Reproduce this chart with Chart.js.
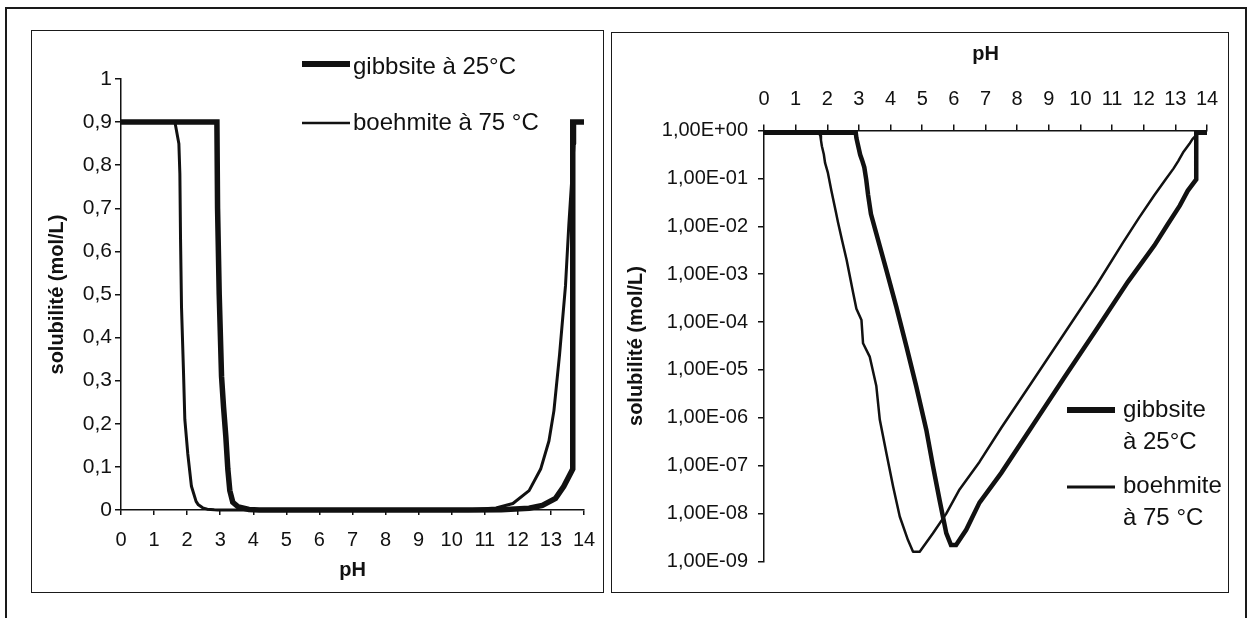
<!DOCTYPE html>
<html><head><meta charset="utf-8">
<script src="https://cdn.jsdelivr.net/npm/chart.js@4.4.1/dist/chart.umd.min.js"></script>
<style>
html,body{margin:0;padding:0;background:#fff;width:1248px;height:618px;overflow:hidden;font-family:"Liberation Sans",Arial,sans-serif;}
#outer{position:absolute;left:5px;top:7px;width:1238px;height:700px;border:2px solid #1a1a1a;border-bottom:none;}
.panel{position:absolute;border:1.5px solid #1a1a1a;box-sizing:border-box;}
canvas{position:absolute;}
</style></head><body>
<div id="outer"></div>
<div class="panel" style="left:31px;top:30px;width:573px;height:563px"></div>
<div class="panel" style="left:611px;top:32px;width:618px;height:561px"></div>
<canvas id="c1" width="572" height="562" style="left:31px;top:30px;width:572px;height:562px"></canvas>
<canvas id="c2" width="617" height="560" style="left:611px;top:32px;width:617px;height:560px"></canvas>
<script>
// ---- data ----
const seriesNames = ['gibbsite à 25°C', 'boehmite à 75 °C'];

const phGibbsite = [0, 2.90, 2.92, 2.97, 3.04, 3.10, 3.17, 3.23, 3.29, 3.38, 3.55, 3.87, 4.18, 4.50, 4.81, 5.13, 5.34, 5.55, 5.76, 5.91, 6.07, 6.39, 6.81, 7.5, 8.5, 9.5, 10.5, 11.5, 12.34, 12.74, 13.14, 13.39, 13.66, 13.66, 14];
const solGibbsite = [0.9, 0.9, 0.70, 0.50, 0.31, 0.24, 0.17, 0.095, 0.045, 0.018, 0.007, 1.2e-3, 2.1e-4, 3.1e-5, 4.6e-6, 5.6e-7, 9.8e-8, 1.9e-8, 3.9e-9, 2.2e-9, 2.2e-9, 4.6e-9, 1.7e-8, 7.1e-8, 7.1e-7, 7.1e-6, 6.9e-5, 6.9e-4, 0.004, 0.0105, 0.027, 0.055, 0.095, 0.9, 0.9];

const phBoehmite = [0, 1.63, 1.75, 1.78, 1.80, 1.83, 1.89, 1.93, 2.02, 2.13, 2.27, 2.34, 2.47, 2.61, 2.82, 2.92, 3.08, 3.13, 3.34, 3.55, 3.66, 3.87, 4.08, 4.29, 4.55, 4.71, 4.92, 5.34, 5.76, 6.18, 6.81, 7.5, 8.5, 9.5, 10.5, 11.34, 11.85, 12.34, 12.69, 12.94, 13.09, 13.26, 13.44, 13.54, 13.70, 13.72];
const solBoehmite = [0.9, 0.9, 0.85, 0.78, 0.63, 0.47, 0.32, 0.21, 0.13, 0.055, 0.02, 0.012, 0.005, 2.0e-3, 4.0e-4, 1.9e-4, 1.1e-4, 3.6e-5, 1.9e-5, 4.6e-6, 9.1e-7, 1.8e-7, 3.7e-8, 8.7e-9, 2.8e-9, 1.6e-9, 1.6e-9, 3.9e-9, 1.0e-8, 3.2e-8, 1.2e-7, 6.2e-7, 6.0e-6, 5.9e-5, 5.8e-4, 0.0045, 0.015, 0.045, 0.095, 0.16, 0.23, 0.36, 0.52, 0.66, 0.85, 0.9];

const phTicks = [0,1,2,3,4,5,6,7,8,9,10,11,12,13,14];
const linTicks = [0,0.1,0.2,0.3,0.4,0.5,0.6,0.7,0.8,0.9,1];
const linTickLabels = ['0','0,1','0,2','0,3','0,4','0,5','0,6','0,7','0,8','0,9','1'];
const logTicks = [1e-9,1e-8,1e-7,1e-6,1e-5,1e-4,1e-3,1e-2,1e-1,1];
const logTickLabels = ['1,00E-09','1,00E-08','1,00E-07','1,00E-06','1,00E-05','1,00E-04','1,00E-03','1,00E-02','1,00E-01','1,00E+00'];
const axisTitleX = 'pH';
const axisTitleY = 'solubilité (mol/L)';

// ---- helpers ----
const FONT = '"Liberation Sans", Arial, sans-serif';
const INK = '#111';
const pts = (xs, ys) => xs.map((x, i) => ({x: x, y: ys[i]}));

const legendPlugin = {
  id: 'customLegend',
  afterDraw(chart, args, opts) {
    const ctx = chart.ctx;
    ctx.save();
    ctx.font = opts.fontSize + 'px ' + FONT;
    ctx.fillStyle = INK;
    ctx.textBaseline = 'alphabetic';
    ctx.textAlign = 'left';
    opts.items.forEach((it, k) => {
      const ds = chart.data.datasets[k];
      ctx.strokeStyle = INK;
      ctx.lineWidth = it.lw;
      ctx.beginPath();
      ctx.moveTo(it.x1, it.y);
      ctx.lineTo(it.x2, it.y);
      ctx.stroke();
      const label = ds.label;
      const lines = opts.split ? [label.slice(0, label.indexOf(' ')), label.slice(label.indexOf(' ') + 1)] : [label];
      lines.forEach((ln, j) => ctx.fillText(ln, it.tx, it.base + j * opts.lineGap));
    });
    ctx.restore();
  }
};

function zeroPad(scale) {
  scale.paddingLeft = 0; scale.paddingRight = 0; scale.paddingTop = 0; scale.paddingBottom = 0;
}

function makeDatasets(gw, bw) {
  return [
    {label: seriesNames[0], data: pts(phGibbsite, solGibbsite), borderColor: INK, borderWidth: gw,
     pointRadius: 0, tension: 0, fill: false, clip: false, borderJoinStyle: 'miter', borderCapStyle: 'butt'},
    {label: seriesNames[1], data: pts(phBoehmite, solBoehmite), borderColor: INK, borderWidth: bw,
     pointRadius: 0, tension: 0, fill: false, clip: false, borderJoinStyle: 'round'}
  ];
}

const tickFont = {family: FONT, size: 20};
const yTickFontLeft = {family: FONT, size: 21};
const titleFont = {family: FONT, size: 20, weight: 'bold'};

// ---- left chart: linear ----
new Chart(document.getElementById('c1'), {
  type: 'line',
  data: {datasets: makeDatasets(5.5, 3)},
  options: {
    responsive: false, animation: false, devicePixelRatio: 1,
    layout: {padding: {left: 0, right: 19, top: 49, bottom: 0}},
    plugins: {
      legend: {display: false}, tooltip: {enabled: false},
      customLegend: {fontSize: 24, split: false, lineGap: 0, items: [
        {x1: 271, x2: 319, y: 34, lw: 6, tx: 322, base: 44},
        {x1: 271, x2: 319, y: 93, lw: 2.5, tx: 322, base: 99.5}
      ]}
    },
    scales: {
      x: {
        type: 'linear', position: 'bottom', min: 0, max: 14,
        afterBuildTicks: s => { s.ticks = phTicks.map(v => ({value: v})); },
        afterFit: s => { s.height = 82; zeroPad(s); },
        ticks: {autoSkip: false, maxRotation: 0, padding: 13, color: INK, font: tickFont,
                callback: v => String(v)},
        grid: {drawOnChartArea: false, drawTicks: true, tickLength: 5, color: INK, lineWidth: 1.5},
        border: {display: true, color: INK, width: 1.5},
        title: {display: true, text: axisTitleX, color: INK, font: titleFont, padding: {top: 0, bottom: 10}}
      },
      y: {
        type: 'linear', position: 'left', min: 0, max: 1,
        afterBuildTicks: s => { s.ticks = linTicks.map(v => ({value: v})); },
        afterFit: s => { s.width = 90; zeroPad(s); },
        ticks: {autoSkip: false, padding: 3, color: INK, font: yTickFontLeft,
                callback: (v) => linTickLabels[linTicks.findIndex(t => Math.abs(t - v) < 1e-6)]},
        grid: {drawOnChartArea: false, drawTicks: true, tickLength: 6, color: INK, lineWidth: 1.5},
        border: {display: true, color: INK, width: 1.5},
        title: {display: true, text: axisTitleY, color: INK, font: titleFont, padding: {top: 14, bottom: 0}}
      }
    }
  },
  plugins: [legendPlugin]
});

// ---- right chart: logarithmic ----
new Chart(document.getElementById('c2'), {
  type: 'line',
  data: {datasets: makeDatasets(4.5, 2.5)},
  options: {
    responsive: false, animation: false, devicePixelRatio: 1,
    layout: {padding: {left: 0, right: 21, top: 0, bottom: 30.5}},
    plugins: {
      legend: {display: false}, tooltip: {enabled: false},
      customLegend: {fontSize: 24, split: true, lineGap: 32, items: [
        {x1: 456, x2: 504, y: 378, lw: 6, tx: 512, base: 385},
        {x1: 456, x2: 504, y: 455, lw: 3, tx: 512, base: 461}
      ]}
    },
    scales: {
      x: {
        type: 'linear', position: 'top', min: 0, max: 14,
        afterBuildTicks: s => { s.ticks = phTicks.map(v => ({value: v})); },
        afterFit: s => { s.height = 98.5; zeroPad(s); },
        ticks: {autoSkip: false, maxRotation: 0, padding: 13.5, color: INK, font: tickFont,
                callback: v => String(v)},
        grid: {drawOnChartArea: false, drawTicks: true, tickLength: 6, color: INK, lineWidth: 1.5},
        border: {display: true, color: INK, width: 1.5},
        title: {display: true, text: axisTitleX, color: INK, font: titleFont, padding: {top: 10, bottom: 0}}
      },
      y: {
        type: 'logarithmic', position: 'left', min: 1e-9, max: 1,
        afterBuildTicks: s => { s.ticks = logTicks.map(v => ({value: v})); },
        afterFit: s => { s.width = 153; zeroPad(s); },
        ticks: {autoSkip: false, padding: 10, color: INK, font: tickFont,
                callback: (v) => logTickLabels[logTicks.findIndex(t => Math.abs(Math.log10(t) - Math.log10(v)) < 1e-6)]},
        grid: {drawOnChartArea: false, drawTicks: true, tickLength: 6, color: INK, lineWidth: 1.5},
        border: {display: true, color: INK, width: 1.5},
        title: {display: true, text: axisTitleY, color: INK, font: titleFont, padding: {top: 13, bottom: 0}}
      }
    }
  },
  plugins: [legendPlugin]
});
</script>
</body></html>
